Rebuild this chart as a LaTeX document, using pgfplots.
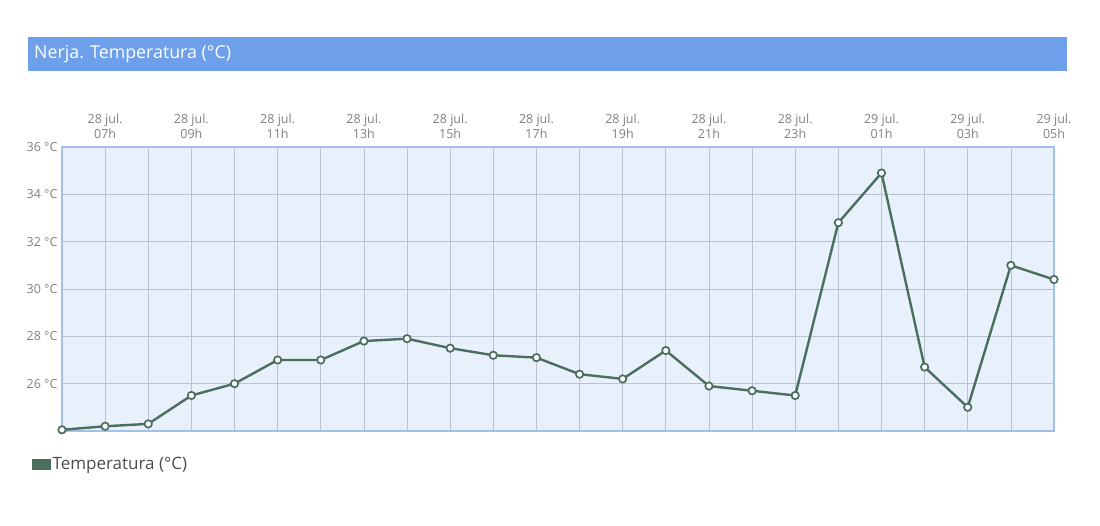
\documentclass[border=0pt]{standalone}
\usepackage{pgfplots}
\pgfplotsset{compat=1.18}
\usepackage{fontspec}
\setmainfont{Open Sans}
\definecolor{linec}{HTML}{4A6F5F}
\definecolor{bgplot}{HTML}{E8F0FB}
\definecolor{borderc}{HTML}{A3C0EA}
\definecolor{gridc}{HTML}{B9C3D1}
\definecolor{titlebar}{HTML}{6E9FEA}
\definecolor{tickc}{HTML}{808080}
\begin{document}
\begin{tikzpicture}[x=1pt,y=1pt]
\begin{axis}[
  at={(0,0)}, anchor=south west,
  scale only axis, width=992pt, height=284pt,
  xmin=0, xmax=23, ymin=24, ymax=36,
  axis background/.style={fill=bgplot},
  axis line style={draw=borderc, line width=1.4pt},
  xtick={1,3,...,23},
  minor xtick={0,2,...,22},
  xticklabels={{28 jul.\\07h},{28 jul.\\09h},{28 jul.\\11h},{28 jul.\\13h},{28 jul.\\15h},{28 jul.\\17h},{28 jul.\\19h},{28 jul.\\21h},{28 jul.\\23h},{29 jul.\\01h},{29 jul.\\03h},{29 jul.\\05h}},
  xticklabel pos=upper,
  xticklabel style={align=center, font=\fontsize{12.5}{15}\selectfont, text=tickc, yshift=5pt},
  ytick={26,28,...,36},
  yticklabel={\pgfmathprintnumber{\tick}~°C},
  yticklabel style={font=\fontsize{12.5}{14}\selectfont, text=tickc, xshift=-1pt},
  /pgf/number format/assume math mode=true,
  major tick length=0pt, minor tick length=0pt,
  grid=both,
  major grid style={draw=gridc, line width=0.7pt},
  minor grid style={draw=gridc, line width=0.7pt},
  legend style={at={(rel axis cs:0,0)}, anchor=north west, xshift=-31pt, yshift=-23pt, draw=none, fill=none, font=\fontsize{17}{19}\selectfont, text=black!70, inner sep=1pt},
  legend image code/.code={\fill[linec] (-2pt,-4.5pt) rectangle (14pt,3.5pt);},
  legend cell align=left,
  clip=false,
]
\addplot[linec, line width=2.4pt, mark=*, mark size=3.7pt, mark options={fill=white, draw=linec, line width=1.7pt}] coordinates {
(0,24.05) (1,24.2) (2,24.3) (3,25.5) (4,26.0) (5,27.0) (6,27.0) (7,27.8) (8,27.9) (9,27.5) (10,27.2) (11,27.1) (12,26.4) (13,26.2) (14,27.4) (15,25.9) (16,25.7) (17,25.5) (18,32.8) (19,34.9) (20,26.7) (21,25.0) (22,31.0) (23,30.4)
};
\addlegendentry{Temperatura (°C)}
\end{axis}
\path[use as bounding box] (-62,-95) rectangle (1038,431);
\fill[titlebar] (-34,360) rectangle (1005,394);
\node[anchor=west, text=white, font=\fontsize{17.8}{20}\selectfont, inner sep=0pt] at (-28,377) {Nerja. Temperatura (°C)};
\end{tikzpicture}
\end{document}
